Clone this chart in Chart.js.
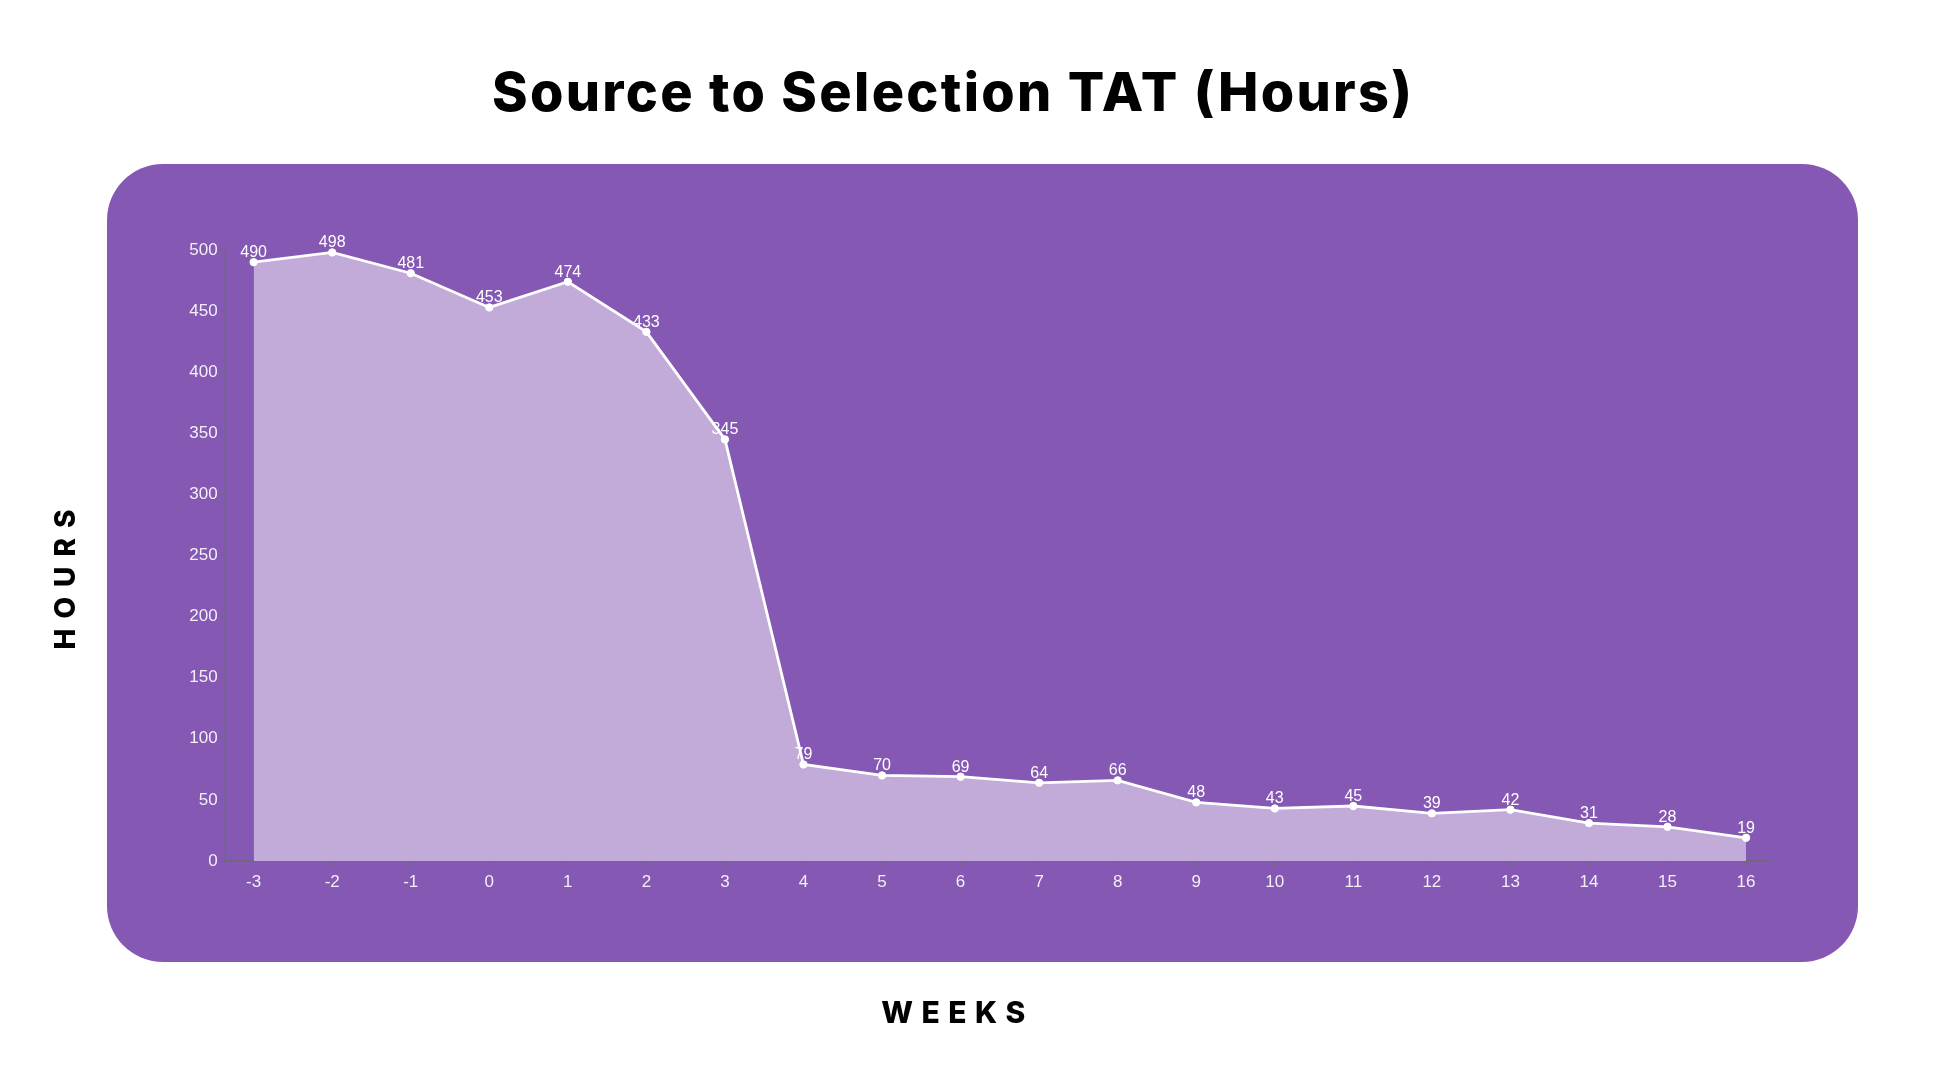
<!DOCTYPE html>
<html>
<head>
<meta charset="utf-8">
<script src="https://cdn.jsdelivr.net/npm/chart.js@4.4.1/dist/chart.umd.min.js"></script>
<style>
  html, body { margin: 0; padding: 0; background: #ffffff; }
  #wrap { width: 1940px; height: 1080px; position: relative; }
</style>
</head>
<body>
<div id="wrap"><canvas id="c" width="1940" height="1080"></canvas></div>
<script>
// ---- data ----
const chartTitle = 'Source to Selection TAT (Hours)';
const xAxisTitle = 'WEEKS';
const yAxisTitle = 'HOURS';
const weeks = [-3, -2, -1, 0, 1, 2, 3, 4, 5, 6, 7, 8, 9, 10, 11, 12, 13, 14, 15, 16];
const hours = [490, 498, 481, 453, 474, 433, 345, 79, 70, 69, 64, 66, 48, 43, 45, 39, 42, 31, 28, 19];
const yTicks = [0, 50, 100, 150, 200, 250, 300, 350, 400, 450, 500];

// ---- styling ----
const PANEL = '#8458B3';
const FILL = '#C2AAD9';
const TICK_COLOR = 'rgba(255,255,255,0.9)';
const AXIS_GRAY = '#6e6878';

const panelPlugin = {
  id: 'panel',
  beforeDraw(chart) {
    const ctx = chart.ctx;
    ctx.save();
    ctx.fillStyle = PANEL;
    ctx.beginPath();
    ctx.roundRect(107, 164, 1751, 798, 56);
    ctx.fill();
    ctx.restore();
  }
};

// letter-spaced, shifted titles
const titleTweaks = { x: { ls: 8.5, dx: -40, dy: 0 }, y: { ls: 10, dx: 0, dy: 19 } };
const mainTitleTweak = { ls: 2.3, dx: -2, dy: 1 };
function wrapSpaced(obj, method, spec) {
  const orig = obj[method];
  obj[method] = function () {
    const ctx = this.ctx;
    ctx.save();
    try { ctx.letterSpacing = spec.ls + 'px'; } catch (e) {}
    ctx.translate(spec.dx, spec.dy);
    orig.apply(this, arguments);
    ctx.restore();
  };
}
const titleStylePlugin = {
  id: 'titleStyle',
  beforeDraw(chart) {
    for (const id of Object.keys(titleTweaks)) {
      const s = chart.scales[id];
      if (!s || s._tw) continue;
      wrapSpaced(s, 'drawTitle', titleTweaks[id]);
      s._tw = true;
    }
    const t = chart.titleBlock;
    if (t && !t._tw) {
      wrapSpaced(t, 'draw', { ls: mainTitleTweak.ls, dx: mainTitleTweak.dx + mainTitleTweak.ls / 2, dy: mainTitleTweak.dy });
      t._tw = true;
    }
  }
};

const valueLabels = {
  id: 'valueLabels',
  afterDatasetsDraw(chart) {
    const ctx = chart.ctx;
    const meta = chart.getDatasetMeta(0);
    ctx.save();
    ctx.fillStyle = '#ffffff';
    ctx.font = '16px "Liberation Sans", Arial, sans-serif';
    ctx.textAlign = 'center';
    ctx.textBaseline = 'alphabetic';
    meta.data.forEach((pt, i) => {
      ctx.fillText(String(hours[i]), pt.x, pt.y - 5);
    });
    ctx.restore();
  }
};

new Chart(document.getElementById('c'), {
  type: 'line',
  data: {
    datasets: [{
      label: 'Hours',
      data: weeks.map((w, i) => ({ x: w, y: hours[i] })),
      borderColor: '#ffffff',
      borderWidth: 2.8,
      backgroundColor: FILL,
      fill: 'origin',
      tension: 0,
      pointRadius: 3.7,
      pointBackgroundColor: '#ffffff',
      pointBorderColor: '#ffffff',
      pointBorderWidth: 1,
      clip: false
    }]
  },
  options: {
    responsive: false,
    animation: false,
    events: [],
    layout: { padding: { left: 0, right: 32, top: 0, bottom: 0 } },
    plugins: {
      legend: { display: false },
      tooltip: { enabled: false },
      title: {
        display: true,
        text: chartTitle,
        color: '#000000',
        font: { family: 'Inter, "Open Sans", sans-serif', size: 54, weight: '800', lineHeight: 1.2 },
        padding: { top: 61, bottom: 124.2 }
      }
    },
    scales: {
      x: {
        type: 'linear',
        position: 'bottom',
        min: -3.37,
        max: 16.31,
        afterBuildTicks(scale) { scale.ticks = weeks.map(v => ({ value: v })); },
        afterFit(scale) { scale.height = 219; },
        ticks: {
          color: TICK_COLOR,
          font: { family: '"Liberation Sans", Arial, sans-serif', size: 17 },
          padding: 6,
          maxRotation: 0,
          autoSkip: false
        },
        grid: { display: true, drawOnChartArea: false, drawTicks: true, tickLength: 5, color: AXIS_GRAY },
        border: { display: true, color: AXIS_GRAY, width: 1.2 },
        title: {
          display: true,
          text: xAxisTitle,
          color: '#000000',
          font: { family: 'Inter, "Open Sans", sans-serif', size: 30, weight: '800', lineHeight: 1.2 },
          padding: { top: 0, bottom: 48 }
        }
      },
      y: {
        type: 'linear',
        position: 'left',
        min: 0,
        max: 500,
        afterBuildTicks(scale) { scale.ticks = yTicks.map(v => ({ value: v })); },
        afterFit(scale) { scale.width = 224.6; },
        ticks: {
          color: TICK_COLOR,
          font: { family: '"Liberation Sans", Arial, sans-serif', size: 17 },
          padding: 2
        },
        grid: { display: true, drawOnChartArea: false, drawTicks: true, tickLength: 5, color: 'rgba(110,104,120,0.6)' },
        border: { display: true, color: 'rgba(110,100,130,0.55)', width: 1, dash: [1, 2] },
        title: {
          display: true,
          text: yAxisTitle,
          color: '#000000',
          font: { family: 'Inter, "Open Sans", sans-serif', size: 28, weight: '800', lineHeight: 1.2 },
          padding: { top: 50, bottom: 0 }
        }
      },
      yr: {
        type: 'linear',
        position: 'right',
        display: true,
        min: 0,
        max: 500,
        afterFit(scale) { scale.width = 137.6; },
        ticks: { display: false },
        grid: { display: false },
        border: { display: false }
      }
    }
  },
  plugins: [panelPlugin, titleStylePlugin, valueLabels]
});
</script>
</body>
</html>
